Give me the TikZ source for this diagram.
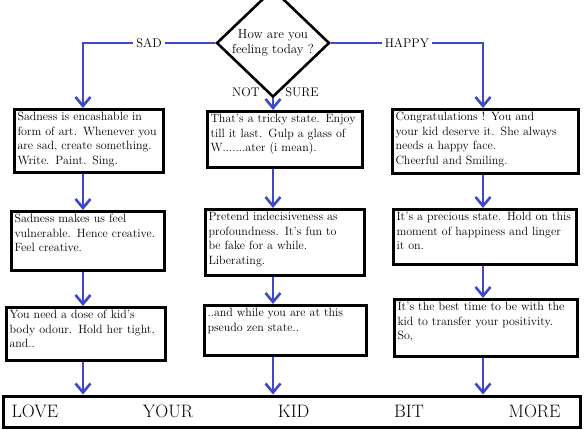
\documentclass[tikz,border=0pt]{standalone}
\usepackage{tikz}
\usetikzlibrary{shapes,arrows.meta}
\definecolor{paintblue}{RGB}{63,72,204}
\tikzset{
  textbox/.style={draw, line width=3pt, anchor=north west, align=left,
    inner xsep=3pt, inner ysep=3pt, text height=8.4pt,
    font=\fontsize{12}{14.4}\selectfont},
  question/.style={diamond, draw, line width=2.6pt, minimum width=113pt,
    minimum height=82pt, inner sep=0pt, align=center,
    font=\fontsize{13}{15}\selectfont},
  flow/.style={draw=paintblue, line width=2.6pt,
    -{Straight Barb[length=9pt,width=15pt]}},
  answer/.style={inner sep=3pt, font=\fontsize{12.5}{14}\selectfont},
  endbar/.style={draw, line width=3pt, minimum height=31pt,
    text width=548pt, inner xsep=14.5pt, font=\fontsize{18}{20}\selectfont}
}
\begin{document}
\begin{tikzpicture}[x=1pt,y=-1pt]
\useasboundingbox (0,0) rectangle (585,429);

% columns
\coordinate (colL) at (83,0);
\coordinate (colM) at (273,0);
\coordinate (colR) at (483,0);

\node[question] (Q) at (273,43) {How are you\\ feeling today ?};

% sad
\node[textbox, text width=143pt, text depth=48.6pt] (sad1) at (13,108)
  {Sadness is encashable in\\ form of art. Whenever you\\ are sad, create something.\\ Write. Paint. Sing.};
\node[textbox, text width=147pt, text depth=44.6pt] (sad2) at (10,210)
  {Sadness makes us feel\\ vulnerable. Hence creative.\\ Feel creative.};
\node[textbox, text width=153pt, text depth=38.6pt] (sad3) at (5,306)
  {You need a dose of kid's\\ body odour. Hold her tight,\\ and..};

% not sure
\node[textbox, text width=149pt, text depth=41.6pt] (mid1) at (206,110)
  {That's a tricky state. Enjoy\\ till it last. Gulp a glass of\\ W.......ater (i mean).};
\node[textbox, text width=153pt, text depth=51.6pt] (mid2) at (204,208)
  {Pretend indecisiveness as\\ profoundness. It's fun to\\ be fake for a while.\\ Liberating.};
\node[textbox, text width=156pt, text depth=35.6pt] (mid3) at (203,304)
  {..and while you are at this\\ pseudo zen state..};

% happy
\node[textbox, text width=180pt, text depth=49.6pt] (hap1) at (391,108)
  {Congratulations ! You and\\ your kid deserve it. She always\\ needs a happy face.\\ Cheerful and Smiling.};
\node[textbox, text width=177pt, text depth=40.6pt] (hap2) at (392,208)
  {It's a precious state. Hold on this\\ moment of happiness and linger\\ it on.};
\node[textbox, text width=177pt, text depth=42.6pt] (hap3) at (393,298)
  {It's the best time to be with the\\ kid to transfer your positivity.\\ So,};

\node[endbar] (bar) at (291.5,411.5)
  {\hspace*{-6pt}LOVE\hfill YOUR\hfill KID\hfill BIT\hfill MORE\kern5pt\mbox{}};

% connectors
\draw[flow] (Q.west) -| node[answer, fill=white, pos=0.25] (sadlbl) {SAD} (sad1.north -| colL);
\draw[flow] (Q.east) -| node[answer, fill=white, pos=0.25] (haplbl) {HAPPY} (hap1.north -| colR);
\draw[flow] (Q.south) -- (mid1.north -| colM);
\node[answer] (notlbl) at (246,92) {NOT};
\node[answer] (surelbl) at (302,92) {SURE};

\draw[flow] (sad1.south -| colL) -- (sad2.north -| colL);
\draw[flow] (sad2.south -| colL) -- (sad3.north -| colL);
\draw[flow] (sad3.south -| colL) -- (bar.north -| colL);
\draw[flow] (mid1.south -| colM) -- (mid2.north -| colM);
\draw[flow] (mid2.south -| colM) -- (mid3.north -| colM);
\draw[flow] (mid3.south -| colM) -- (bar.north -| colM);
\draw[flow] (hap1.south -| colR) -- (hap2.north -| colR);
\draw[flow] (hap2.south -| colR) -- (hap3.north -| colR);
\draw[flow] (hap3.south -| colR) -- (bar.north -| colR);
\end{tikzpicture}
\end{document}
